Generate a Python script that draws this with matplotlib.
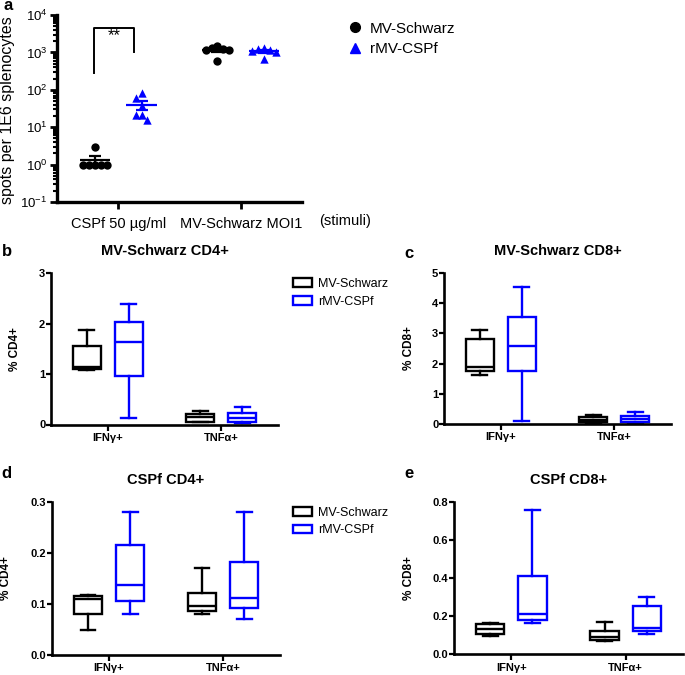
import numpy as np
import matplotlib
matplotlib.use("Agg")
import matplotlib.pyplot as plt
from matplotlib.patches import Patch
from matplotlib.lines import Line2D
from matplotlib.ticker import LogLocator, LogFormatterSciNotation, NullFormatter, FormatStrFormatter

plt.rcParams['font.family'] = ['Liberation Sans', 'DejaVu Sans']
plt.rcParams['mathtext.fontset'] = 'custom'
plt.rcParams['mathtext.rm'] = 'Liberation Sans'
plt.rcParams['mathtext.it'] = 'Liberation Sans:italic'
plt.rcParams['mathtext.bf'] = 'Liberation Sans:bold'
plt.rcParams['axes.unicode_minus'] = False

groups = ['MV-Schwarz', 'rMV-CSPf']
colors = ['black', 'blue']

# panel a: ELISpot, spots per 1E6 splenocytes
stimuli = ['CSPf 50 µg/ml', 'MV-Schwarz MOI1']
spots_mv = [[3, 1, 1, 1, 1, 1], [1490, 1290, 1210, 1170, 1170, 605]]
spots_rmv = [[81, 60, 37, 21, 21, 16], [1300, 1200, 1150, 1100, 1000, 650]]

# panels b-e: box stats [min, q1, median, q3, max] per cytokine
cytokines = ['IFNγ+', 'TNFα+']
b_mv = [[1.08, 1.10, 1.14, 1.56, 1.87], [0.04, 0.05, 0.14, 0.20, 0.26]]
b_rmv = [[0.12, 0.97, 1.63, 2.03, 2.38], [0.02, 0.05, 0.13, 0.235, 0.35]]
c_mv = [[1.63, 1.74, 1.90, 2.83, 3.11], [0.03, 0.05, 0.14, 0.23, 0.31]]
c_rmv = [[0.09, 1.76, 2.58, 3.53, 4.54], [0.04, 0.06, 0.16, 0.25, 0.40]]
d_mv = [[0.050, 0.080, 0.110, 0.116, 0.117], [0.080, 0.087, 0.0965, 0.122, 0.170]]
d_rmv = [[0.080, 0.106, 0.137, 0.215, 0.280], [0.070, 0.093, 0.112, 0.183, 0.280]]
e_mv = [[0.096, 0.105, 0.131, 0.161, 0.166], [0.070, 0.075, 0.093, 0.124, 0.171]]
e_rmv = [[0.162, 0.180, 0.211, 0.41, 0.76], [0.105, 0.122, 0.136, 0.253, 0.302]]

W, H = 685, 675
fig = plt.figure(figsize=(W / 100, H / 100), dpi=100)


def px_axes(l, r, t, b):
    return fig.add_axes([l / W, 1 - b / H, (r - l) / W, (b - t) / H])


def swarm(vals, center, dx=0.048, dy=0.16):
    # simple beeswarm on log scale
    placed = []
    cands = [0]
    for k in range(1, 8):
        cands += [-k * dx, k * dx]
    for v in vals:
        ly = np.log10(v)
        for off in cands:
            if all(((px - off) / dx) ** 2 + ((py - ly) / dy) ** 2 >= 0.99 for px, py in placed):
                placed.append((off, ly))
                break
    return [center + p[0] for p in placed]


# ---------- panel a ----------
ax = px_axes(57, 302, 15, 202)
off = 0.19
for g, (data, col, mk) in enumerate(zip([spots_mv, spots_rmv], colors, ['o', '^'])):
    for i, vals in enumerate(data):
        pos = i + (g - 0.5) * 2 * off
        ax.scatter(swarm(vals, pos), vals, marker=mk, s=36, color=col, zorder=3, linewidths=0)
        m = np.mean(vals)
        sem = np.std(vals, ddof=1) / np.sqrt(len(vals))
        ax.hlines(m, pos - 0.126, pos + 0.126, color=col, lw=1.6, zorder=4)
        ax.errorbar(pos, m, yerr=sem, color=col, lw=1.6, capsize=4.3, capthick=1.6, zorder=4)

# significance bracket
ax.plot([-0.2, -0.2, 0.13, 0.13], [277, 4400, 4400, 1050], color='black', lw=1.4)
ax.text(-0.035, 2800, '**', ha='center', va='center', fontsize=12)

ax.set_yscale('log')
ax.set_ylim(0.1, 1e4)
ax.set_xlim(-0.5, 1.5)
ax.yaxis.set_major_locator(LogLocator(base=10, numticks=10))
ax.yaxis.set_minor_locator(LogLocator(base=10, subs=np.arange(2, 10), numticks=10))
ax.yaxis.set_major_formatter(LogFormatterSciNotation())
ax.yaxis.set_minor_formatter(NullFormatter())
ax.set_xticks(range(len(stimuli)))
ax.set_xticklabels(stimuli, fontsize=10.5)
for s in ['top', 'right']:
    ax.spines[s].set_visible(False)
for s in ['left', 'bottom']:
    ax.spines[s].set_linewidth(2.4)
ax.tick_params(axis='y', which='major', length=5, width=2, labelsize=9.5, pad=2)
ax.tick_params(axis='y', which='minor', length=3, width=1.5)
ax.tick_params(axis='x', length=5, width=2, pad=6)
ax.set_ylabel('spots per 1E6 splenocytes', fontsize=11.5)
ax.yaxis.set_label_coords(-0.171, 0.49)
ax.text(1.176, -0.102, '(stimuli)', transform=ax.transAxes, ha='center', va='center', fontsize=10.5)

handles = [Line2D([], [], marker='o', color='black', ls='none', markersize=7),
           Line2D([], [], marker='^', color='blue', ls='none', markersize=7)]
fig.legend(handles, groups, loc='center left', bbox_to_anchor=(347 / W, 1 - 39 / H), frameon=False,
           fontsize=11, handlelength=1.0, handletextpad=0.5, labelspacing=0.45, borderpad=0,
           borderaxespad=0)


# ---------- panels b-e ----------
def box_panel(ax, mv, rmv, ylim, yticks, fmt, ylabel, title, labx):
    for g, (data, col) in enumerate(zip([mv, rmv], colors)):
        stats = [dict(whislo=s[0], q1=s[1], med=s[2], q3=s[3], whishi=s[4]) for s in data]
        pos = np.arange(len(cytokines)) + (g - 0.5) * 0.37
        ax.bxp(stats, positions=pos, widths=0.25, capwidths=0.13, showfliers=False,
               patch_artist=True, manage_ticks=False,
               boxprops=dict(facecolor='white', edgecolor=col, lw=1.7),
               whiskerprops=dict(color=col, lw=1.7),
               capprops=dict(color=col, lw=1.7),
               medianprops=dict(color=col, lw=1.7))
    ax.set_xlim(-0.5, 1.5)
    ax.set_ylim(*ylim)
    ax.set_yticks(yticks)
    ax.yaxis.set_major_formatter(FormatStrFormatter(fmt))
    ax.set_xticks(range(len(cytokines)))
    ax.set_xticklabels(cytokines)
    for s in ['top', 'right']:
        ax.spines[s].set_visible(False)
    for s in ['left', 'bottom']:
        ax.spines[s].set_linewidth(1.9)
    ax.tick_params(axis='y', length=3.6, width=1.6, labelsize=8, pad=0.5)
    ax.tick_params(axis='x', length=4, width=1.6, labelsize=8, pad=2)
    for lab in ax.get_xticklabels() + ax.get_yticklabels():
        lab.set_fontweight('bold')
    ax.set_ylabel(ylabel, fontsize=8.5, fontweight='bold')
    ax.yaxis.set_label_coords(labx, 0.5)
    ax.set_title(title, fontsize=10.5, fontweight='bold', pad=13)


axb = px_axes(51, 278, 273, 424.5)
box_panel(axb, b_mv, b_rmv, (0, 3), [0, 1, 2, 3], '%d', '% CD4+', 'MV-Schwarz CD4+', -0.132)
axc = px_axes(444, 671, 273, 424)
box_panel(axc, c_mv, c_rmv, (0, 5), [0, 1, 2, 3, 4, 5], '%d', '% CD8+', 'MV-Schwarz CD8+', -0.128)
axd = px_axes(52, 280, 502, 655)
box_panel(axd, d_mv, d_rmv, (0, 0.3), [0, 0.1, 0.2, 0.3], '%.1f', '% CD4+', 'CSPf CD4+', -0.175)
axe = px_axes(454, 683, 502, 654.3)
box_panel(axe, e_mv, e_rmv, (0, 0.8), [0, 0.2, 0.4, 0.6, 0.8], '%.1f', '% CD8+', 'CSPf CD8+', -0.17)

box_handles = [Patch(facecolor='white', edgecolor=c, lw=1.7) for c in colors]
for yc in [293, 521.5]:
    fig.legend(box_handles, groups, loc='center left', bbox_to_anchor=(293 / W, 1 - yc / H),
               frameon=False, fontsize=9, handlelength=1.5, handleheight=0.7, handletextpad=0.5,
               labelspacing=0.45, borderpad=0, borderaxespad=0)

for lab, x, y in [('a', 8, 6), ('b', 7, 252), ('c', 409, 253), ('d', 6, 474), ('e', 409, 474)]:
    fig.text(x / W, 1 - y / H, lab, fontsize=12, fontweight='bold', ha='center', va='center')

fig.savefig('out.png', dpi=100)
